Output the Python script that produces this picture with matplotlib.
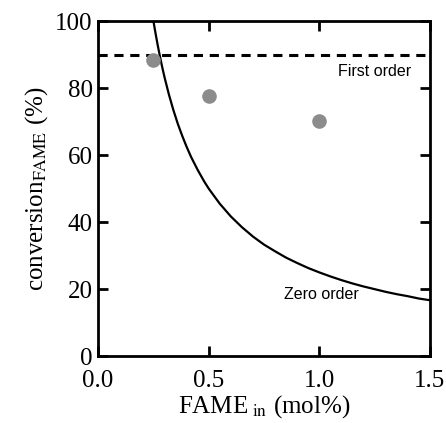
import numpy as np
import matplotlib
matplotlib.use('Agg')
import matplotlib.pyplot as plt

plt.rcParams['font.family'] = 'serif'
plt.rcParams['font.serif'] = ['Liberation Serif', 'DejaVu Serif']
plt.rcParams['mathtext.fontset'] = 'stix'

# measured conversions (grey dots)
fame_in = [0.25, 0.5, 1.0]
conversion = [88.5, 77.8, 70.3]

# zero order curve
zero_x = [0.25, 0.26, 0.27, 0.28, 0.29, 0.30, 0.32, 0.34, 0.36, 0.38, 0.40, 0.42, 0.45,
          0.48, 0.50, 0.55, 0.60, 0.65, 0.70, 0.75, 0.80, 0.85, 0.90, 0.95, 1.00,
          1.05, 1.10, 1.15, 1.20, 1.25, 1.30, 1.35, 1.40, 1.45, 1.50]
zero_y = [100, 96.2, 92.6, 89.3, 86.2, 83.3, 78.1, 73.5, 69.4, 65.8, 62.5, 59.5, 55.6,
          52.1, 50.0, 45.5, 41.7, 38.5, 35.7, 33.3, 31.3, 29.4, 27.8, 26.3, 25.0,
          23.8, 22.7, 21.7, 20.8, 20.0, 19.2, 18.5, 17.9, 17.2, 16.7]

first_order = 90

fig = plt.figure(figsize=(4.46, 4.23), dpi=100)
ax = fig.add_axes([0.22, 0.158, 0.744, 0.792])

ax.axhline(first_order, color='black', lw=2.2, ls=(0, (3, 2.2)), zorder=2)
ax.plot(zero_x, zero_y, color='black', lw=1.6, zorder=2, solid_joinstyle='round')
ax.plot(fame_in, conversion, 'o', color='#8c8c8c', ms=10.5, mec='none', zorder=3)

ax.text(1.25, 85, 'First order', family='Liberation Sans', fontsize=11.5, ha='center', va='center')
ax.text(1.01, 18.5, 'Zero order', family='Liberation Sans', fontsize=11.5, ha='center', va='center')

ax.set_xlim(0, 1.5)
ax.set_ylim(0, 100)
ax.set_xticks([0.0, 0.5, 1.0, 1.5])
ax.set_xticklabels(['0.0', '0.5', '1.0', '1.5'])
ax.set_yticks([0, 20, 40, 60, 80, 100])
ax.tick_params(direction='in', length=7, width=2, labelsize=18, top=True, right=True)
ax.tick_params(axis='x', pad=10)
ax.tick_params(axis='y', pad=4)
for s in ax.spines.values():
    s.set_linewidth(2)

ax.set_xlabel(r'FAME$_{\ \mathrm{in}}$ (mol%)', fontsize=18, labelpad=1)
ax.set_ylabel(r'conversion$_{\mathrm{FAME}}$ (%)', fontsize=18, labelpad=4)

fig.savefig('out.png', dpi=100)
